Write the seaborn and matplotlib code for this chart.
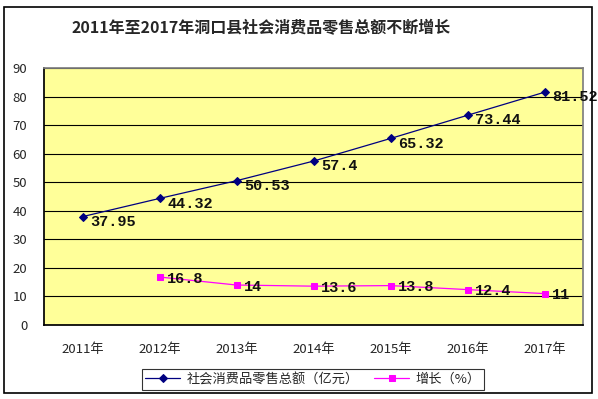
import numpy as np
import pandas as pd
import matplotlib
matplotlib.use("Agg")
import matplotlib.pyplot as plt
from matplotlib.patches import Rectangle
import seaborn as sns

years = ["2011年", "2012年", "2013年", "2014年", "2015年", "2016年", "2017年"]
retail = [37.95, 44.32, 50.53, 57.4, 65.32, 73.44, 81.52]
growth = [np.nan, 16.8, 14, 13.6, 13.8, 12.4, 11]
retail_labels = ["37.95", "44.32", "50.53", "57.4", "65.32", "73.44", "81.52"]
growth_labels = ["", "16.8", "14", "13.6", "13.8", "12.4", "11"]
series_names = ["社会消费品零售总额（亿元）", "增长（%）"]

sns.set_theme(style="white")
plt.rcParams["font.family"] = ["Noto Sans CJK SC", "DejaVu Sans"]

fig = plt.figure(figsize=(5.98, 3.99), dpi=100)
ax = fig.add_axes([44 / 598, 1 - 325 / 399, (583 - 44) / 598, (325 - 68) / 399])
ax.set_facecolor("#FFFF99")

df = pd.DataFrame({"pos": range(len(years)), "retail": retail, "growth": growth})

sns.lineplot(data=df, x="pos", y="retail", ax=ax, color="#000080", lw=0.9,
             marker="D", markersize=4, markeredgecolor="#000080",
             label=series_names[0])
sns.lineplot(data=df.dropna(), x="pos", y="growth", ax=ax, color="#FF00FF", lw=0.9,
             marker="s", markersize=5, markeredgecolor="#FF00FF",
             label=series_names[1])

lab_font = dict(family=["Liberation Mono", "DejaVu Sans Mono"], fontsize=11,
                fontweight="bold", color="#111111")
for i, (v, t) in enumerate(zip(retail, retail_labels)):
    ax.text(i + 0.1, v - 1.8, t, va="center", ha="left", **lab_font)
for i, (v, t) in enumerate(zip(growth, growth_labels)):
    if t:
        ax.text(i + 0.1, v - 0.6, t, va="center", ha="left", **lab_font)

ax.set_xlim(-0.5, len(years) - 0.5)
ax.set_ylim(0, 90)
ax.set_yticks(range(0, 91, 10))
ax.set_xticks(range(len(years)))
ax.set_xticklabels(years)
ax.set_xticks(np.arange(0.5, len(years) - 0.5, 1), minor=True)
ax.tick_params(axis="x", which="major", length=0, pad=13, labelsize=9.5)
ax.tick_params(axis="x", which="minor", length=5, direction="in", color="black", width=0.8)
ax.tick_params(axis="y", length=0, pad=12, labelsize=9.5)
ax.set_xlabel("")
ax.set_ylabel("")
ax.yaxis.grid(True, color="black", lw=0.8)
ax.set_axisbelow(True)
for side in ["top", "right"]:
    ax.spines[side].set_color("#808080")
for side in ["left", "bottom"]:
    ax.spines[side].set_color("black")

ax.legend(loc="lower center", bbox_to_anchor=(313 / 598, 9 / 399),
          bbox_transform=fig.transFigure, ncol=2, frameon=True, fancybox=False,
          edgecolor="black", fontsize=9.5, handlelength=2.6, borderpad=0.3,
          columnspacing=1.2, handletextpad=0.5, borderaxespad=0)
ax.get_legend().get_frame().set_linewidth(0.8)

fig.text(261 / 598, 1 - 28 / 399, "2011年至2017年洞口县社会消费品零售总额不断增长",
         ha="center", va="center", fontsize=11.5, fontweight="bold")
fig.patches.append(Rectangle((4 / 598, 6 / 399), 588 / 598, 386 / 399,
                             transform=fig.transFigure, fill=False,
                             edgecolor="black", lw=1.2))

fig.savefig("out.png", dpi=100)
